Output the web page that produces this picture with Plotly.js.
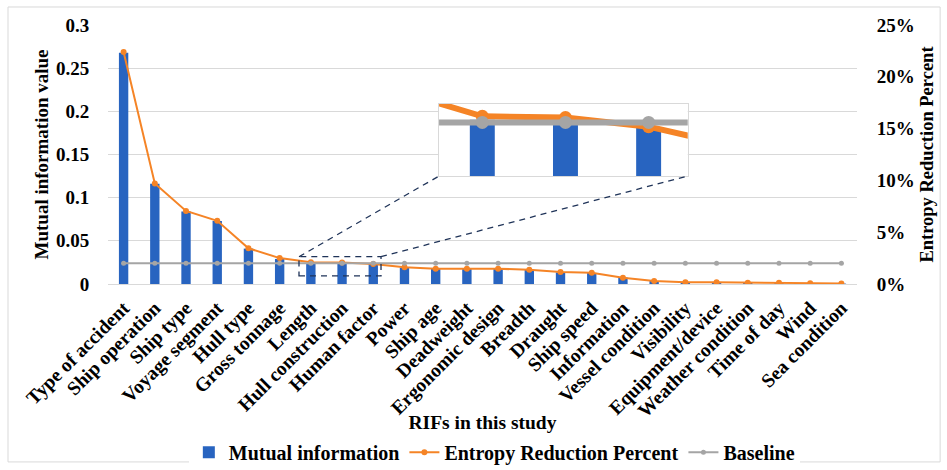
<!DOCTYPE html>
<html>
<head>
<meta charset="utf-8">
<script src="https://cdn.plot.ly/plotly-3.0.1.min.js"></script>
<style>html,body{margin:0;padding:0;background:#fff;}#chart{width:947px;height:470px;}</style>
</head>
<body>
<div id="chart"></div>
<script>
const categories = ["Type of accident","Ship operation","Ship type","Voyage segment","Hull type","Gross tonnage","Length","Hull construction","Human factor","Power","Ship age","Deadweight","Ergonomic design","Breadth","Draught","Ship speed","Information","Vessel condition","Visibility","Equipment/device","Weather condition","Time of day","Wind","Sea condition"];
const mutualInfo = [0.268,0.116,0.084,0.073,0.041,0.029,0.0245,0.0245,0.023,0.019,0.0175,0.0175,0.0175,0.0165,0.0135,0.0128,0.0075,0.0035,0.0015,0.0015,0.0012,0.001,0.0006,0.0005];
const entropyPct = [22.4,9.7,7.05,6.1,3.45,2.5,2.1,2.08,1.93,1.62,1.48,1.47,1.47,1.38,1.16,1.09,0.6,0.3,0.17,0.17,0.13,0.12,0.07,0.06];
const baselinePct = [2,2,2,2,2,2,2,2,2,2,2,2,2,2,2,2,2,2,2,2,2,2,2,2];

const FONT = "Liberation Serif, 'Times New Roman', serif";
const BLUE = "#2864C0", ORANGE = "#F58426", GRAY = "#A5A5A5";

const traces = [
  {type:"bar", x:categories, y:mutualInfo, name:"Mutual information", marker:{color:BLUE}, xaxis:"x", yaxis:"y"},
  {type:"scatter", mode:"lines+markers", x:categories, y:entropyPct, name:"Entropy Reduction Percent", line:{color:ORANGE,width:2}, marker:{color:ORANGE,size:6}, xaxis:"x", yaxis:"y2"},
  {type:"scatter", mode:"lines+markers", x:categories, y:baselinePct, name:"Baseline", line:{color:GRAY,width:2}, marker:{color:GRAY,size:5}, xaxis:"x", yaxis:"y2"},
  // inset (magnified view)
  {type:"bar", x:categories, y:mutualInfo, showlegend:false, marker:{color:BLUE}, xaxis:"x2", yaxis:"y3"},
  {type:"scatter", mode:"lines+markers", x:categories, y:entropyPct, showlegend:false, line:{color:ORANGE,width:6}, marker:{color:ORANGE,size:13}, xaxis:"x2", yaxis:"y4"},
  {type:"scatter", mode:"lines+markers", x:categories, y:baselinePct, showlegend:false, line:{color:GRAY,width:6}, marker:{color:GRAY,size:13}, xaxis:"x2", yaxis:"y4"}
];
const yTickFont = {family:FONT, size:19, color:"#000", weight:"bold"};
const xTickFont = {family:FONT, size:19.5, color:"#000", weight:"bold"};
const titleFont = {family:FONT, size:19, color:"#000", weight:"bold"};
const dash = {color:"#1F3358", width:1.3, dash:"6px,5px"};
const layout = {
  width:947, height:470,
  margin:{l:108, r:90, t:25, b:186},
  paper_bgcolor:"#fff", plot_bgcolor:"#fff",
  bargap:0.7,
  showlegend:true,
  font:{family:FONT, color:"#000"},
  xaxis:{domain:[0,1], type:"category", range:[-0.5,23.5], tickangle:-45, tickfont:xTickFont, showgrid:false, showline:true, linecolor:"#d9d9d9", ticks:"outside", ticklen:4, tickcolor:"rgba(0,0,0,0)", automargin:false,
         title:{text:"RIFs in this study", font:{family:FONT,size:19.5,color:"#000",weight:"bold"}, standoff:3}},
  yaxis:{domain:[0,1], range:[0,0.3], dtick:0.05, tickfont:yTickFont, gridcolor:"#d9d9d9", zeroline:false, ticks:"outside", ticklen:14, tickcolor:"rgba(0,0,0,0)", automargin:false,
         title:{text:"Mutual information value", font:titleFont, standoff:2}},
  yaxis2:{overlaying:"y", side:"right", range:[0,25], dtick:5, ticksuffix:"%", tickfont:yTickFont, showgrid:false, zeroline:false, ticks:"outside", ticklen:15, tickcolor:"rgba(0,0,0,0)", automargin:false,
         title:{text:"Entropy Reduction Percent", font:{family:FONT,size:18.5,color:"#000",weight:"bold"}, standoff:6}},
  xaxis2:{domain:[0.442,0.774], anchor:"y3", type:"category", range:[5.48,8.47], showticklabels:false, showgrid:false, zeroline:false, showline:true, mirror:true, linecolor:"#d9d9d9", ticks:""},
  yaxis3:{domain:[0.417,0.695], anchor:"x2", range:[0.0135,0.0276], showticklabels:false, showgrid:false, zeroline:false, showline:true, mirror:true, linecolor:"#d9d9d9", ticks:""},
  yaxis4:{overlaying:"y3", anchor:"x2", range:[1.125,2.3], visible:false},
  legend:{orientation:"h", xref:"container", yref:"container", x:0.522, xanchor:"center", y:0.038, yanchor:"middle", font:{family:FONT,size:20,color:"#000",weight:"bold"}, itemwidth:30},
  shapes:[
    {type:"rect", xref:"paper", yref:"paper", x0:0.255, x1:0.3645, y0:0.031, y1:0.1054, line:dash},
    {type:"line", xref:"paper", yref:"paper", x0:0.255, y0:0.1054, x1:0.442, y1:0.417, line:dash},
    {type:"line", xref:"paper", yref:"paper", x0:0.3645, y0:0.1054, x1:0.774, y1:0.417, line:dash},
    {type:"rect", xref:"paper", yref:"paper", x0:-0.1335, x1:1.111, y0:-0.687, y1:1.0695, line:{color:"#d9d9d9", width:1}}
  ]
};
Plotly.newPlot("chart", traces, layout, {displayModeBar:false, staticPlot:true});
</script>
</body>
</html>
